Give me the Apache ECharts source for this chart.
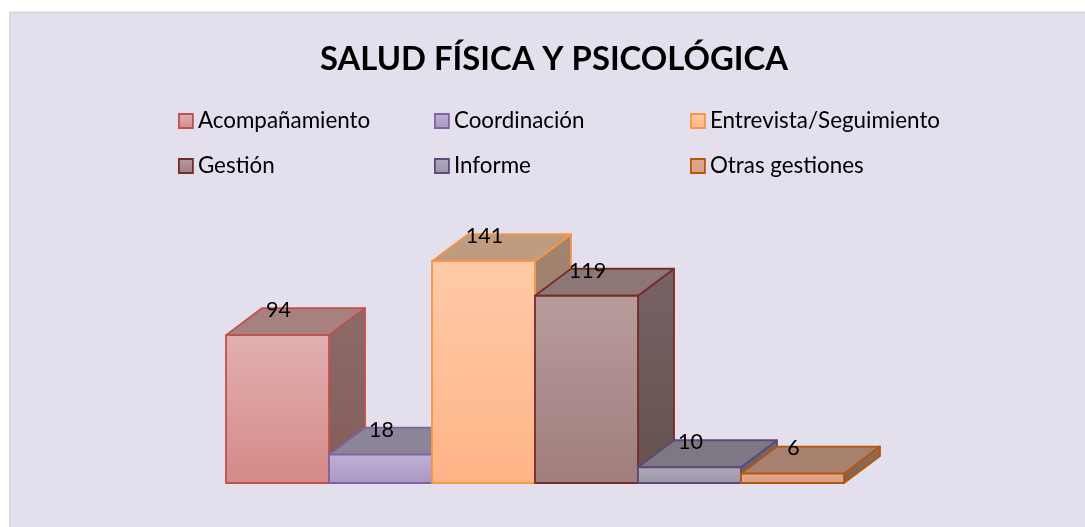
<!DOCTYPE html>
<html>
<head>
<meta charset="utf-8">
<title>Salud física y psicológica</title>
<script src="https://cdn.jsdelivr.net/npm/echarts@6/dist/echarts.min.js"></script>
<style>
  html, body { margin: 0; padding: 0; background: #fff; }
  #chart { width: 1085px; height: 527px; }
</style>
</head>
<body>
<div id="chart"></div>
<script>
const titleText = "SALUD FÍSICA Y PSICOLÓGICA";
const categories = ["Acompañamiento", "Coordinación", "Entrevista/Seguimiento", "Gestión", "Informe", "Otras gestiones"];
const values = [94, 18, 141, 119, 10, 6];

// colores de cada cara: frente (arriba/abajo), tapa, lateral (arriba/abajo), borde
const faces = [
  { front: ["#e2b0b0", "#d48a88"], top: "#a68180", side: ["#8d6a69", "#845c5a"], line: "#c0504d" },
  { front: ["#c0b2d3", "#a996c3"], top: "#8c8599", side: ["#7d7290", "#6f6285"], line: "#8064a2" },
  { front: ["#ffcaa8", "#ffb486"], top: "#bf9b7f", side: ["#a38470", "#967660"], line: "#f79646" },
  { front: ["#b89c9c", "#a07d7d"], top: "#8c7676", side: ["#776363", "#655050"], line: "#772c2a" },
  { front: ["#aeaabb", "#9b96aa"], top: "#7d7884", side: ["#6d6878", "#625c6e"], line: "#5f497a" },
  { front: ["#e3a88f", "#dc9f85"], top: "#a88070", side: ["#8c6e60", "#806050"], line: "#b65708" },
];

const depthX = 36;
const depthY = 27;
const fontName = "Lato";

// posicion de la leyenda, 3 columnas y 2 filas
const legendCols = [178, 434, 690];
const legendRows = [110, 155];

function vgrad(colors) {
  return new echarts.graphic.LinearGradient(0, 0, 0, 1, [
    { offset: 0, color: colors[0] },
    { offset: 1, color: colors[1] },
  ]);
}

function renderBar(params, api) {
  const f = faces[params.seriesIndex];
  const top = api.coord([api.value(0), api.value(1)]);
  const base = api.coord([api.value(0), 0]);
  const w = api.size([1, 0])[0];
  const x0 = top[0] - w / 2;
  const x1 = top[0] + w / 2;
  const y0 = top[1];
  const y1 = base[1];
  const lineStyle = { stroke: f.line, lineWidth: 1.8, lineJoin: "round" };
  return {
    type: "group",
    children: [
      {
        type: "polygon",
        shape: { points: [[x1, y0], [x1 + depthX, y0 - depthY], [x1 + depthX, y1 - depthY], [x1, y1]] },
        style: { fill: vgrad(f.side), ...lineStyle },
      },
      {
        type: "polygon",
        shape: { points: [[x0, y0], [x0 + depthX, y0 - depthY], [x1 + depthX, y0 - depthY], [x1, y0]] },
        style: { fill: f.top, ...lineStyle },
      },
      {
        type: "rect",
        shape: { x: x0, y: y0, width: x1 - x0, height: y1 - y0 },
        style: { fill: vgrad(f.front), ...lineStyle },
      },
      {
        type: "text",
        style: {
          x: top[0] + 1,
          y: y0 - 25,
          text: String(api.value(1)),
          fill: "#000",
          font: "21.5px " + fontName,
          textAlign: "center",
          textVerticalAlign: "middle",
        },
      },
    ],
  };
}

const chart = echarts.init(document.getElementById("chart"), null, { renderer: "canvas" });
chart.setOption({
  animation: false,
  backgroundColor: "#fff",
  title: {
    text: titleText,
    left: 549,
    top: 38,
    textAlign: "center",
    textStyle: { color: "#000", fontFamily: fontName, fontWeight: "bold", fontSize: 32.8 },
  },
  graphic: [
    {
      type: "rect",
      silent: true,
      z: -10,
      shape: { x: 10, y: 12.5, width: 1085, height: 527 },
      style: { fill: "#e4dfec", stroke: "#d9d9d9", lineWidth: 2 },
    },
  ],
  legend: categories.map(function (name, i) {
    return {
      left: legendCols[i % 3],
      top: legendRows[Math.floor(i / 3)],
      selectedMode: false,
      padding: 0,
      itemWidth: 14,
      itemHeight: 14,
      textStyle: { color: "#000", fontFamily: fontName, fontSize: 22.4 },
      data: [
        {
          name: name,
          icon: "rect",
          itemStyle: { color: vgrad(faces[i].front), borderColor: faces[i].line, borderWidth: 1.8 },
        },
      ],
    };
  }),
  grid: { left: 226, width: 618, top: 247, height: 236 },
  xAxis: { type: "category", data: categories, show: false },
  yAxis: { type: "value", min: 0, max: 150, show: false },
  series: categories.map(function (name, i) {
    return {
      name: name,
      type: "custom",
      clip: false,
      coordinateSystem: "cartesian2d",
      encode: { x: 0, y: 1 },
      data: [[i, values[i]]],
      renderItem: renderBar,
    };
  }),
});
</script>
</body>
</html>
